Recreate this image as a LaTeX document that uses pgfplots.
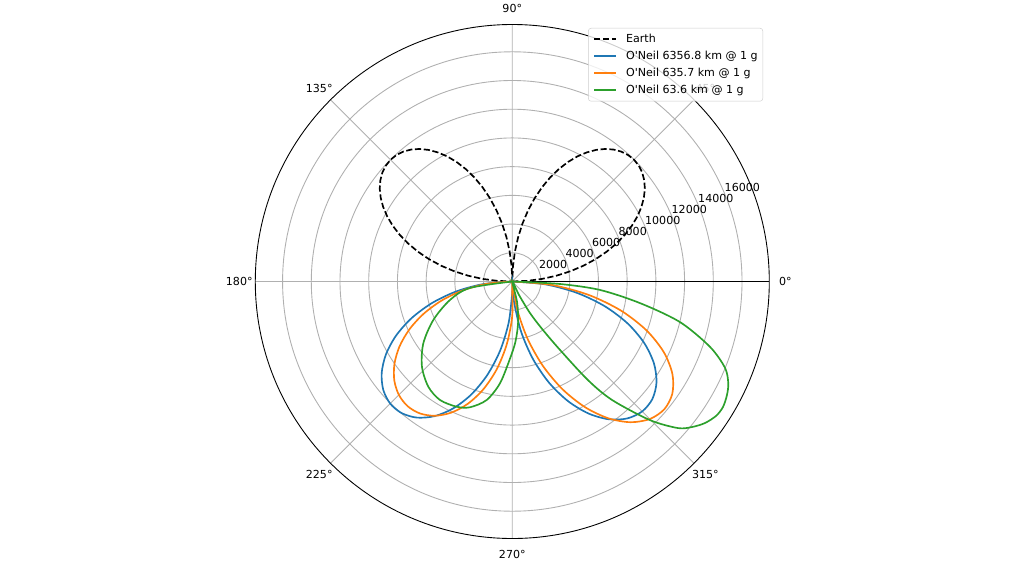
\documentclass[border=0pt]{standalone}
\usepackage{fontspec}
\setmainfont{DejaVu Sans}[Ligatures=TeXOff]
\usepackage{pgfplots}
\pgfplotsset{compat=1.18}
\usepgfplotslibrary{polar}
\definecolor{mplblue}{HTML}{1F77B4}
\definecolor{mplorange}{HTML}{FF7F0E}
\definecolor{mplgreen}{HTML}{2CA02C}
\definecolor{gridgray}{HTML}{B0B0B0}
\definecolor{legedge}{HTML}{CCCCCC}
\begin{document}
\begin{tikzpicture}
\path[use as bounding box] (-461.07bp,-253.35bp) rectangle (460.53bp,253.35bp);
\begin{polaraxis}[
  at={(0bp,0bp)}, anchor=origin,
  scale only axis, width=462.6bp, height=462.6bp,
  xmin=0, xmax=360, ymin=0, ymax=17900,
  scaled x ticks=false, scaled y ticks=false,
  xtick={0,45,...,315}, xticklabels={},
  ytick={2000,4000,...,16000}, yticklabels={},
  xmajorgrids, ymajorgrids,
  major grid style={draw=gridgray, line width=0.8bp},
  axis line style={black, line width=0.8bp},
  major tick style={draw=none},
  clip=false,
  font=\fontsize{10}{12}\selectfont,
  legend cell align=left,
  legend style={at={(0.98774,0.99319)}, anchor=north east,
    draw=legedge, fill=white, fill opacity=0.8, text opacity=1,
    rounded corners=2.5bp, inner xsep=4.5bp, inner ysep=4.9bp,
    row sep=5.3bp, column sep=8bp,
    nodes={inner sep=0pt, text height=7.6bp, text depth=2.4bp},
    font=\fontsize{10}{12}\selectfont},
  legend image code/.code={\draw[#1, line width=1.5bp, opacity=1] (0bp,0bp) -- (20bp,0bp);},
]
\node[anchor=center] at (axis cs:0,19015) {0°};
\node[anchor=center] at (axis cs:45,19015) {45°};
\node[anchor=center] at (axis cs:90,19015) {90°};
\node[anchor=center] at (axis cs:135,19015) {135°};
\node[anchor=center] at (axis cs:180,19015) {180°};
\node[anchor=center] at (axis cs:225,19015) {225°};
\node[anchor=center] at (axis cs:270,19015) {270°};
\node[anchor=center] at (axis cs:315,19015) {315°};
\node[anchor=base west, inner sep=0pt, yshift=2bp] at (axis cs:22.5,2000) {2000};
\node[anchor=base west, inner sep=0pt, yshift=2bp] at (axis cs:22.5,4000) {4000};
\node[anchor=base west, inner sep=0pt, yshift=2bp] at (axis cs:22.5,6000) {6000};
\node[anchor=base west, inner sep=0pt, yshift=2bp] at (axis cs:22.5,8000) {8000};
\node[anchor=base west, inner sep=0pt, yshift=2bp] at (axis cs:22.5,10000) {10000};
\node[anchor=base west, inner sep=0pt, yshift=2bp] at (axis cs:22.5,12000) {12000};
\node[anchor=base west, inner sep=0pt, yshift=2bp] at (axis cs:22.5,14000) {14000};
\node[anchor=base west, inner sep=0pt, yshift=2bp] at (axis cs:22.5,16000) {16000};

\addplot[draw=black, line width=1.5bp, dash pattern=on 5.55bp off 2.4bp] table {
0 0
2.5 1045
5 2083
7.5 3104
10 4102
12.5 5068
15 5997
17.5 6879
20 7709
22.5 8480
25 9187
27.5 9824
30 10386
32.5 10869
35 11270
37.5 11584
40 11811
42.5 11947
45 11993
47.5 11947
50 11811
52.5 11584
55 11270
57.5 10869
60 10386
62.5 9824
65 9187
67.5 8480
70 7709
72.5 6879
75 5997
77.5 5068
80 4102
82.5 3104
85 2083
87.5 1045
90 0
92.5 1045
95 2083
97.5 3104
100 4102
102.5 5068
105 5997
107.5 6879
110 7709
112.5 8480
115 9187
117.5 9824
120 10386
122.5 10869
125 11270
127.5 11584
130 11811
132.5 11947
135 11993
137.5 11947
140 11811
142.5 11584
145 11270
147.5 10869
150 10386
152.5 9824
155 9187
157.5 8480
160 7709
162.5 6879
165 5997
167.5 5068
170 4102
172.5 3104
175 2083
177.5 1045
180 0
};
\addlegendentry{Earth}

\addplot[draw=mplblue, line width=1.5bp, smooth] table {
180 0
185 2001
190 3947
195 5786
200 7466
205 8939
210 10163
215 11105
220 11732
225 12026
230 11973
235 11572
240 10828
245 9757
250 8388
255 6751
260 4895
265 2867
270 726
271.7 0
275 1435
280 3566
285 5613
290 7511
295 9198
300 10616
305 11714
310 12450
315 12796
320 12735
325 12261
330 11388
335 10138
340 8553
345 6680
350 4583
355 2331
360 0
};
\addlegendentry{O'Neil 6356.8 km @ 1 g}

\addplot[draw=mplorange, line width=1.5bp, smooth] table {
180 0
185 1744
190 3448
195 5069
200 6571
205 7918
210 9078
215 10022
220 10727
225 11171
230 11339
235 11217
240 10798
245 10080
250 9066
255 7764
260 6191
265 4374
270 2350
275.4 0
280 1982
285 4149
290 6277
295 8284
300 10092
305 11620
310 12793
315 13546
320 13829
325 13609
330 12876
335 11643
340 9945
345 7843
350 5418
355 2767
360 0
};
\addlegendentry{O'Neil 635.7 km @ 1 g}

\addplot[draw=mplgreen, line width=1.5bp, smooth] table {
180 0
188.7 2981
196.5 4527
206.0 6121
214.8 7547
223.3 8646
231.4 9376
238.6 9668
246.1 9541
251.4 9243
257.8 8444
263.1 7142
268.2 5400
273 4200
278 2900
283 1500
288 0
296.6 1090
299.4 2557
302.3 3998
304.9 5814
307.5 8652
310.1 10786
314.8 13603
318.5 15406
321.0 16104
323.7 16651
326.6 17002
329.2 17081
332.1 16916
334.8 16625
337.9 15993
341.7 14506
346.4 12016
350.4 9020
354.5 6137
357.0 3328
360 0
};
\addlegendentry{O'Neil 63.6 km @ 1 g}
\end{polaraxis}
\end{tikzpicture}
\end{document}
